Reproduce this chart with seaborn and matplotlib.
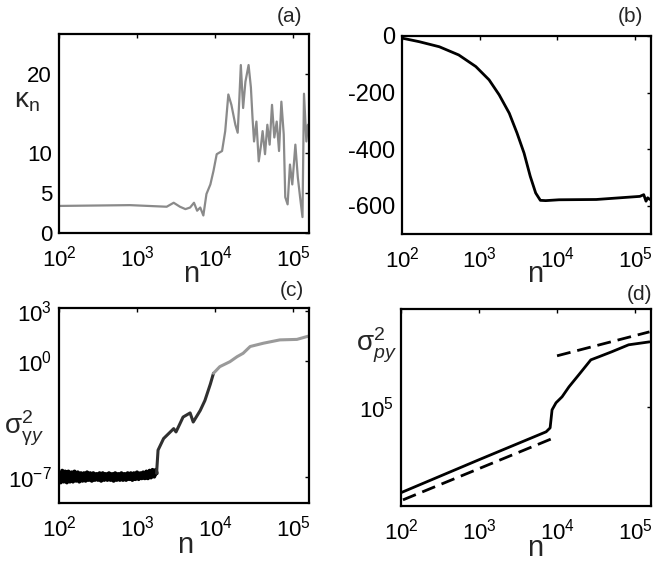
import numpy as np
import matplotlib
matplotlib.use("Agg")
import matplotlib.pyplot as plt
import seaborn as sns
from matplotlib.ticker import NullLocator, FixedLocator

# (a) kappa_n vs n
a_n = [100, 813, 2400, 2950, 3550, 4170, 4790, 5370, 5890, 6460, 7080, 7760, 8710,
       9550, 10500, 12300, 13500, 14800, 16200, 18200, 19500, 20400, 21400, 22900,
       24500, 26900, 28800, 30200, 31600, 33900, 36300, 38900, 40700, 43700, 46800,
       50100, 53700, 57500, 61700, 66100, 70800, 75900, 79400, 85100, 91200, 97700,
       107000, 115000, 123000, 132000, 138000, 148000, 155000]
a_kappa = [3.4, 3.5, 3.3, 3.8, 3.3, 3.0, 3.2, 3.8, 2.8, 3.2, 2.2, 4.9, 6.1,
           7.8, 9.9, 10.3, 12.8, 17.4, 16.1, 13.6, 12.6, 16.5, 21.1, 15.7,
           19.0, 21.1, 18.3, 14.5, 11.5, 14.0, 9.0, 11.1, 12.8, 9.9, 13.6,
           11.1, 16.1, 12.0, 14.0, 10.3, 16.5, 12.4, 4.5, 3.6, 8.6, 6.1,
           11.1, 7.0, 4.5, 2.0, 17.5, 11.5, 13.6]

# (b)
b_n = [100, 102, 166, 302, 537, 891, 1320, 1780, 2400, 3020, 3720, 4470, 5250,
       6030, 7080, 10500, 31600, 115000, 129000, 138000, 145000, 155000]
b_val = [-5, -8, -20, -38, -67, -108, -155, -208, -273, -343, -414, -496, -555,
         -581, -582, -579, -578, -567, -561, -584, -572, -578]

# (c) sigma^2_gamma y, exponents
c_n = [100, 105, 110, 115, 120, 126, 132, 138, 145, 151, 158, 166, 174, 182, 191,
       200, 209, 219, 229, 240, 251, 263, 275, 288, 302, 316, 331, 347, 363, 380,
       398, 417, 437, 457, 479, 501, 525, 550, 575, 603, 631, 661, 692, 724, 759,
       794, 832, 871, 912, 955, 1000, 1050, 1100, 1150, 1200, 1260, 1320, 1380,
       1450, 1510, 1580, 1660, 1740, 1780,
       1860, 2190, 2950, 3160, 3550, 3890, 4790, 5250, 6460, 7410,
       8710, 9550, 11500, 15500, 19100, 22900, 28200, 41700, 67600, 112000, 158000]
c_exp = [-7.0, -7.35, -6.65, -7.3, -6.7, -7.35, -6.7, -7.3, -6.75, -7.3, -6.7,
         -7.25, -6.75, -7.3, -6.8, -7.25,
         -6.8, -7.25, -6.75, -7.2, -6.8, -7.25, -6.8, -7.2, -6.85, -7.2, -6.8,
         -7.25, -6.8, -7.2, -6.85, -7.2,
         -6.8, -7.2, -6.85, -7.25, -6.8, -7.2, -6.85, -7.2, -6.8, -7.2, -6.85,
         -7.2, -6.8, -7.15, -6.8, -7.2, -6.8, -7.15,
         -6.75, -7.15, -6.8, -7.1, -6.75, -7.1, -6.7, -7.1, -6.65, -7.05, -6.6,
         -7.0, -6.6, -6.8,
         -5.4, -4.7, -4.1, -4.3, -3.8, -3.4, -3.15, -3.7, -3.0, -2.4,
         -1.4, -0.75, -0.35, -0.05, 0.25, 0.46, 0.87, 1.07, 1.27, 1.3, 1.5]

# (d) sigma^2_py
d_n = [100, 1000, 7250, 8150, 8630, 9700, 11600, 14200, 19000, 27100, 34300,
       50200, 82600, 153000]
d_val = [16300, 32700, 59000, 64100, 93800, 108900, 123600, 152400, 196800,
         269800, 287700, 319900, 370700, 394500]
d_fit1_n = [106, 9160]
d_fit1 = [14000, 52000]
d_fit2_n = [10000, 153000]
d_fit2 = [293800, 487500]

sns.set_style("white")
plt.rcParams["font.family"] = ["Liberation Sans", "DejaVu Sans"]
plt.rcParams["mathtext.fontset"] = "custom"
plt.rcParams["mathtext.rm"] = "Liberation Sans"
plt.rcParams["mathtext.it"] = "Liberation Sans:italic"
plt.rcParams["mathtext.default"] = "regular"
plt.rcParams["axes.unicode_minus"] = False

W, H = 653, 563
fig = plt.figure(figsize=(W / 100, H / 100), dpi=100)


def px_axes(l, t, r, b):
    return fig.add_axes([l / W, 1 - b / H, (r - l) / W, (b - t) / H])


def style(ax):
    for s in ax.spines.values():
        s.set_linewidth(1.6)
        s.set_color("black")
        s.set_visible(True)
    ax.tick_params(direction="in", length=3, width=1, top=True, right=True,
                   labelsize=16, colors="black", pad=5)
    ax.tick_params(axis="x", pad=9)
    ax.set_xscale("log")
    ax.set_xlim(100, 1.6e5)
    ax.xaxis.set_major_locator(FixedLocator([1e2, 1e3, 1e4, 1e5]))
    ax.xaxis.set_minor_locator(NullLocator())
    ax.set_xlabel("")
    ax.set_ylabel("")
    ax.set_facecolor("white")


ax_a = px_axes(59, 34, 309, 233)
ax_b = px_axes(402, 36, 651, 234)
ax_c = px_axes(59, 308, 309, 503)
ax_d = px_axes(401, 309, 651, 506)
for ax in (ax_a, ax_b, ax_c, ax_d):
    style(ax)

# (a)
sns.lineplot(x=a_n, y=a_kappa, ax=ax_a, color="#8a8a8a", lw=1.6, estimator=None)
ax_a.set_ylim(0, 25)
ax_a.set_yticks([0, 5, 10, 20])

# (b)
sns.lineplot(x=b_n, y=b_val, ax=ax_b, color="black", lw=2.0, estimator=None)
ax_b.set_ylim(-700, 0)
ax_b.set_yticks([0, -200, -400, -600])
ax_b.tick_params(axis="y", labelsize=17)

# (c)
c_y = [10.0 ** e for e in c_exp]
k1 = c_n.index(1780) + 1
k2 = c_n.index(9550) + 1
sns.lineplot(x=c_n[:k1], y=c_y[:k1], ax=ax_c, color="black", lw=3.0, estimator=None)
sns.lineplot(x=c_n[k1 - 1:k2], y=c_y[k1 - 1:k2], ax=ax_c, color="#303030", lw=2.2,
             estimator=None)
sns.lineplot(x=c_n[k2 - 1:], y=c_y[k2 - 1:], ax=ax_c, color="#9a9a9a", lw=2.2,
             estimator=None)
ax_c.set_yscale("log")
ax_c.set_ylim(10 ** -8.6, 10 ** 3.2)
ax_c.yaxis.set_major_locator(FixedLocator([1e-7, 1e0, 1e3]))
ax_c.yaxis.set_minor_locator(NullLocator())

# (d)
sns.lineplot(x=d_n, y=d_val, ax=ax_d, color="black", lw=2.0, estimator=None)
sns.lineplot(x=d_fit1_n, y=d_fit1, ax=ax_d, color="black", lw=2.0,
             linestyle=(0, (5, 2.5)), estimator=None)
sns.lineplot(x=d_fit2_n, y=d_fit2, ax=ax_d, color="black", lw=2.0,
             linestyle=(0, (5, 2.5)), estimator=None)
ax_d.set_yscale("log")
ax_d.set_ylim(1.23e4, 7.9e5)
ax_d.yaxis.set_major_locator(FixedLocator([1e5]))
ax_d.yaxis.set_minor_locator(NullLocator())


def ftext(x, y, s, **kw):
    fig.text(x / W, 1 - y / H, s, ha="center", va="center", **kw)


# panel tags
ftext(289, 16, "(a)", fontsize=15)
ftext(630, 16, "(b)", fontsize=15)
ftext(292, 290, "(c)", fontsize=15)
ftext(640, 294, "(d)", fontsize=15)

# axis labels
for x, y in [(191, 274), (535, 274), (185, 545), (535, 548)]:
    ftext(x, y, "n", fontsize=21)
ftext(27, 101, r"$\kappa_n$", fontsize=20)
ftext(24, 428, r"$\sigma^2_{\gamma \mathit{y}}$", fontsize=20)
ftext(376, 345, r"$\sigma^2_{\mathit{py}}$", fontsize=20)

fig.savefig("out.png", dpi=100)
